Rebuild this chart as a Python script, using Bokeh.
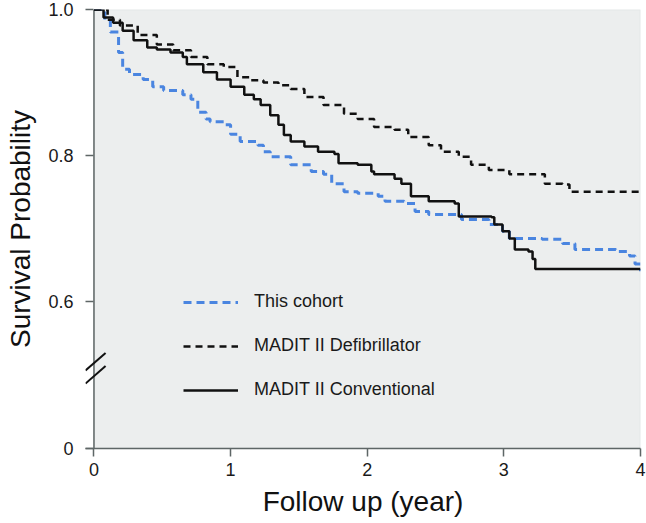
from bokeh.plotting import figure
from bokeh.models import FixedTicker, Legend, LegendItem, Arrow, Range1d, BoxAnnotation, Span
from bokeh.embed import file_html
from bokeh.resources import INLINE

# ---- data (years, survival probability) ----
cohort_t = [0.0, 0.08, 0.12, 0.18, 0.21, 0.26, 0.36, 0.43, 0.51, 0.65, 0.71, 0.76, 0.82, 0.85, 0.95,
            1.00, 1.07, 1.20, 1.24, 1.29, 1.44, 1.59, 1.68, 1.74, 1.83, 1.93, 2.08, 2.13, 2.27, 2.35,
            2.45, 2.64, 2.69, 2.89, 2.99, 3.04, 3.28, 3.43, 3.52, 3.82, 3.92, 3.96, 4.0]
cohort_s = [1.0, 0.985, 0.969, 0.941, 0.918, 0.911, 0.904, 0.894, 0.889, 0.883, 0.877, 0.859, 0.850, 0.846, 0.842,
            0.829, 0.819, 0.814, 0.805, 0.798, 0.787, 0.778, 0.774, 0.761, 0.750, 0.748, 0.744, 0.737, 0.734, 0.723,
            0.719, 0.719, 0.712, 0.705, 0.696, 0.686, 0.685, 0.679, 0.671, 0.668, 0.662, 0.651, 0.641]

defib_t = [0.0, 0.10, 0.19, 0.32, 0.46, 0.58, 0.71, 0.83, 0.95, 1.05, 1.15, 1.24, 1.35, 1.44, 1.54,
           1.68, 1.83, 1.93, 2.05, 2.20, 2.30, 2.45, 2.54, 2.67, 2.76, 2.89, 3.04, 3.26, 3.30, 3.43,
           3.48, 4.0]
defib_s = [1.0, 0.986, 0.978, 0.965, 0.952, 0.944, 0.935, 0.925, 0.921, 0.907, 0.903, 0.900, 0.896, 0.891, 0.880,
           0.869, 0.857, 0.850, 0.839, 0.835, 0.825, 0.814, 0.805, 0.798, 0.787, 0.780, 0.774, 0.774, 0.761, 0.760,
           0.750, 0.750]

conv_t = [0.0, 0.07, 0.14, 0.21, 0.29, 0.39, 0.46, 0.56, 0.65, 0.68, 0.80, 0.90, 1.00, 1.10, 1.17,
          1.22, 1.29, 1.35, 1.39, 1.44, 1.54, 1.64, 1.76, 1.79, 1.93, 2.03, 2.05, 2.20, 2.25, 2.32,
          2.45, 2.64, 2.67, 2.91, 2.93, 2.99, 3.04, 3.08, 3.18, 3.21, 3.23, 4.0]
conv_s = [1.0, 0.989, 0.982, 0.971, 0.958, 0.948, 0.945, 0.941, 0.935, 0.925, 0.914, 0.904, 0.894, 0.883, 0.877,
          0.869, 0.855, 0.842, 0.828, 0.819, 0.812, 0.805, 0.802, 0.789, 0.787, 0.778, 0.774, 0.768, 0.761, 0.744,
          0.737, 0.734, 0.716, 0.715, 0.705, 0.696, 0.686, 0.671, 0.668, 0.658, 0.644, 0.644]

x_ticks = [0, 1, 2, 3, 4]
y_zero_pos = 0.398          # position at which the broken axis shows 0
y_ticks = [y_zero_pos, 0.6, 0.8, 1.0]
y_tick_labels = ["0", "0.6", "0.8", "1.0"]
names = ["This cohort", "MADIT II Defibrillator", "MADIT II Conventional"]
x_title = "Follow up (year)"
y_title = "Survival Probability"

AXIS = "#5e6666"
FONT = "Liberation Sans"
X_LEFT = -0.062  # small room left of the axis for the y ticks and the break marks

p = figure(width=646, height=523, output_backend="svg", toolbar_location=None,
           x_range=Range1d(X_LEFT, 4), y_range=Range1d(y_zero_pos, 1.0),
           min_border_left=85, min_border_right=6, min_border_top=9, min_border_bottom=75)

p.background_fill_color = "white"
p.border_fill_color = "white"
p.outline_line_color = None
p.grid.visible = False

# plotting panel (grey) starting at x = 0, with a light border
p.add_layout(BoxAnnotation(left=0, fill_color="#eceeee", fill_alpha=1.0,
                           line_color="#c4c6c6", line_width=1.5, level="underlay"))
# the y axis line at x = 0
p.add_layout(Span(location=0, dimension="height", line_color=AXIS, line_width=1.5, level="underlay"))

r1 = p.step(cohort_t, cohort_s, mode="after", line_color="#4a85e0", line_width=3, line_dash="8 5")
r2 = p.step(defib_t, defib_s, mode="after", line_color="#111111", line_width=2.5, line_dash="7 5")
r3 = p.step(conv_t, conv_s, mode="after", line_color="#111111", line_width=2.5)

legend = Legend(items=[LegendItem(label=names[0], renderers=[r1]),
                       LegendItem(label=names[1], renderers=[r2]),
                       LegendItem(label=names[2], renderers=[r3])],
                location=(98, 48), background_fill_alpha=0, border_line_alpha=0,
                padding=0, margin=0, spacing=23, glyph_width=55, glyph_height=20,
                label_height=20, label_standoff=16,
                label_text_font=FONT, label_text_font_size="18px",
                label_text_color="#1a1a1a")
p.add_layout(legend)

# axes
for ax in (p.xaxis[0], p.yaxis[0]):
    ax.axis_line_color = AXIS
    ax.axis_line_width = 1.5
    ax.major_tick_line_color = AXIS
    ax.major_tick_line_width = 1.5
    ax.minor_tick_line_color = None
    ax.major_label_text_font = FONT
    ax.major_label_text_font_size = "18px"
    ax.major_label_text_color = "#1a1a1a"
    ax.axis_label_text_font = FONT
    ax.axis_label_text_font_size = "28px"
    ax.axis_label_text_font_style = "normal"
    ax.axis_label_text_color = "#111111"

p.xaxis.ticker = FixedTicker(ticks=x_ticks)
p.xaxis.major_tick_out = 8
p.xaxis.major_tick_in = 0
p.xaxis.axis_label = x_title
p.xaxis.major_label_standoff = 6
p.xaxis.axis_label_standoff = 7

p.yaxis.ticker = FixedTicker(ticks=y_ticks)
p.yaxis.major_label_overrides = {t: s for t, s in zip(y_ticks, y_tick_labels)}
p.yaxis.axis_line_color = None
p.yaxis.major_tick_out = 0
p.yaxis.major_tick_in = 8
p.yaxis.major_label_standoff = 12
p.yaxis.axis_label = y_title
p.yaxis.axis_label_standoff = 9

# axis-break marks
for y0 in (0.487, 0.505):
    p.add_layout(Arrow(end=None, x_start=X_LEFT, y_start=y0, x_end=0.085, y_end=y0 + 0.024,
                       line_color="#111111", line_width=2))

open("out.html", "w").write(file_html(p, INLINE))
